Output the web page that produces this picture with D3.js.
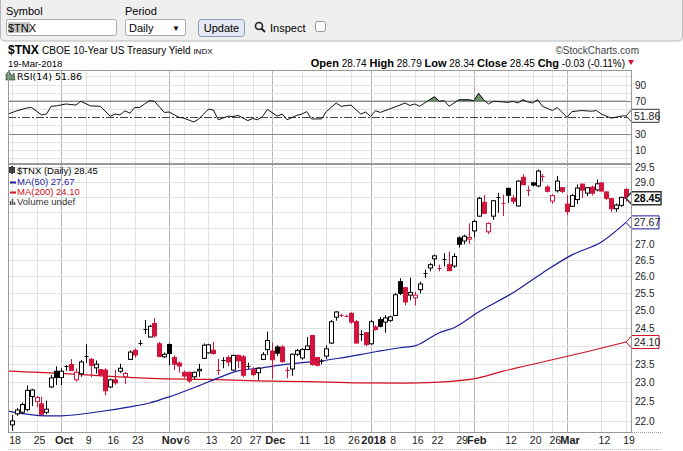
<!DOCTYPE html>
<html>
<head>
<meta charset="utf-8">
<script src="https://cdn.jsdelivr.net/npm/d3@7"></script>
<style>
  body { margin: 0; background: #fff; font-family: "Liberation Sans", Arial, sans-serif; }
  svg text { font-family: "Liberation Sans", Arial, sans-serif; }
</style>
</head>
<body>
<div id="viz"></div>
<script>
// trading days Sep 18 2017 .. Mar 19 2018
const holidays = ["2017-11-23", "2017-12-25", "2018-01-01", "2018-01-15", "2018-02-19"];

const opens = [21.9,22.18,22.22,22.29,22.63,22.5,22.44,22.22,22.88,23.3,
23.13,23.41,23.48,23.07,23.23,23.67,23.62,23.39,23.34,23.33,
22.88,23.07,23.3,23.15,23.62,23.87,24.05,24.45,24.24,24.62,
24.05,23.69,24.03,23.67,23.52,23.27,23.27,23.15,23.31,23.65,
23.8,23.87,23.35,23.58,23.67,23.33,23.73,23.69,23.43,23.34,
23.26,23.62,23.89,23.85,23.96,23.96,23.36,23.36,23.76,23.66,
23.89,24.28,23.67,23.55,23.71,24.07,24.8,24.87,24.85,24.91,
24.67,24.3,24.36,24.05,24.52,24.73,24.66,24.71,24.85,25.84,
25.66,25.44,25.36,25.6,26.08,26.25,26.53,26.27,26.5,26.35,
26.31,27.18,27.08,27.14,27.4,27.87,28.32,27.37,27.87,28.46,
28.32,28.78,28.46,28.2,29.15,28.74,28.96,28.86,29.21,28.82,
28.36,28.7,28.8,28.26,28.19,28.41,28.92,28.62,28.82,28.73,
28.96,28.66,28.44,28.11,28.22,28.74];
const highs = [22.15,22.33,22.47,22.92,22.83,22.65,22.62,22.52,23.2,23.43,
23.38,23.46,23.63,23.37,23.6,24.04,23.66,23.59,23.36,23.38,
23.1,23.34,23.5,23.28,23.87,23.92,24.15,24.72,24.58,24.77,
24.1,23.81,24.06,23.73,23.56,23.32,23.29,23.29,23.5,24.06,
24.05,24.1,23.63,23.68,23.73,23.75,23.75,23.74,23.53,23.41,
23.41,23.82,24.39,24.08,24.01,24.01,23.41,23.78,23.91,23.93,
24.24,24.3,23.68,23.63,24.01,24.72,24.97,24.9,24.87,24.94,
24.72,24.43,24.38,24.72,24.57,24.81,24.86,24.84,25.5,25.94,
25.69,25.96,25.54,25.84,26.2,26.4,26.66,26.35,26.7,26.75,
26.7,27.23,27.28,27.64,27.75,28.5,28.56,27.67,28.4,28.63,
28.57,28.8,28.56,29.05,29.25,28.87,28.99,29.41,29.26,28.89,
28.59,29.19,28.82,28.56,28.59,28.91,28.94,28.82,28.87,29.08,
28.98,28.68,28.46,28.28,28.5,28.79];
const lows = [21.75,22.13,22.17,22.24,22.38,22.35,22.15,22.17,22.85,22.93,
22.93,23.31,23.3,23.02,23.15,23.52,23.14,23.24,23.16,22.66,
22.85,22.94,23.25,22.96,23.6,23.67,24.0,24.32,24.23,24.22,
23.68,23.66,23.46,23.33,23.26,23.12,22.99,23.07,23.15,23.63,
23.78,23.75,23.2,23.38,23.43,23.31,23.38,23.14,23.35,23.16,
23.06,23.6,23.74,23.1,23.71,23.53,23.11,23.18,23.71,23.61,
23.87,23.45,23.43,23.48,23.63,24.05,24.7,24.8,24.8,24.61,
24.05,24.13,23.98,24.02,24.42,24.51,24.36,24.66,24.83,25.44,
25.14,25.29,25.14,25.49,25.95,26.15,26.31,26.15,26.3,26.15,
26.25,26.88,26.98,26.99,27.2,27.85,27.94,27.3,27.75,27.98,
27.87,28.3,28.26,28.18,28.88,28.52,28.84,28.81,29.01,28.64,
28.27,28.64,28.62,27.91,28.17,28.26,28.47,28.52,28.54,28.68,
28.65,28.4,28.01,28.01,28.17,28.34];
const closes = [22.0,22.28,22.42,22.79,22.8,22.6,22.17,22.3,23.12,23.13,
23.3,23.44,23.32,23.27,23.55,23.7,23.46,23.49,23.21,22.78,
23.07,22.99,23.38,23.24,23.82,23.74,24.08,24.47,24.54,24.27,
23.7,23.76,23.78,23.49,23.44,23.17,23.04,23.27,23.35,24.01,
24.02,23.78,23.33,23.61,23.55,23.73,23.58,23.19,23.45,23.21,
23.38,23.75,24.14,23.61,23.79,23.56,23.34,23.76,23.86,23.89,
23.99,23.48,23.46,23.58,23.91,24.67,24.95,24.85,24.83,24.66,
24.07,24.33,24.03,24.67,24.45,24.54,24.78,24.81,25.45,25.49,
25.24,25.52,25.44,25.77,26.1,26.35,26.62,26.25,26.53,26.17,
26.6,26.98,27.23,27.19,27.7,28.45,27.96,27.64,28.37,28.48,
28.3,28.55,28.35,29.02,28.9,28.72,28.89,29.36,29.18,28.68,
28.54,29.02,28.68,28.02,28.54,28.79,28.72,28.8,28.62,28.93,
28.69,28.45,28.11,28.23,28.48,28.45];

// moving averages (day index, value)
const ma50Idx = [0,7,10,18,24,28,32,38,42,46,51,55,59,63,67,74,79,82,87,90,95,102,108,114,120,125];
const ma50Val = [22.25,22.13,22.13,22.24,22.36,22.46,22.62,22.91,23.12,23.31,23.39,23.47,23.53,23.58,23.66,23.83,23.94,23.99,24.36,24.5,24.95,25.51,26.1,26.65,27.05,27.67];
const ma200Idx = [0,10,20,30,40,50,60,70,80,86,95,100,108,117,125];
const ma200Val = [23.3,23.24,23.16,23.1,23.08,23.04,23.02,22.99,22.98,23.0,23.12,23.3,23.55,23.83,24.1];

// RSI(14)
const rsiIdx = [0,1,3,4,6,7,8,9,11,13,14,16,18,20,21,22,23,24,25,26,27,28,29,31,32,34,35,37,38,40,41,42,44,45,46,48,49,50,51,52,54,55,56,58,59,60,61,63,64,66,67,69,71,72,73,74,75,77,79,80,81,82,83,85,86,87,88,89,91,93,94,95,96,97,98,100,101,102,103,104,105,106,107,108,110,111,113,114,116,118,119,120,122,124,125];
const rsiVal = [54,58,61.4,62,53,54,63.5,64,66.3,65,69.6,64,63.5,51.2,54,53,58,55,62,62,66.3,70.3,69.6,56,56.5,50,49,44.3,47.8,60,59,47,51.5,50.8,52.4,46,48.5,47,51,59.7,51.5,54,47,52.5,54,57,48,48,57,67.5,63.5,65,54,56.5,51,58,56,60.5,65,67.5,64.5,66.3,63.5,71.5,75.2,69.6,70.3,63.5,71.5,71.5,70.3,79.4,71.5,66.3,69.6,68.8,68.3,69.6,67.5,71.5,68.8,67.5,71.5,63.5,58.3,62,50,57,58.3,57.5,58.3,54,49,51.5,51.86];

const priceTicks = [22.0,22.5,23.0,23.5,24.0,24.5,25.0,25.5,26.0,26.5,27.0,27.5,28.0,28.5,29.0,29.5];
const rsiTicks = [90,70,30,10];
const lastTags = [28.45, 27.67, 24.10];
// x axis labels: [date, text, isMonth]
const xLabels = [["2017-09-18","18",0],["2017-09-25","25",0],["2017-10-02","Oct",1],["2017-10-09","9",0],
  ["2017-10-16","16",0],["2017-10-23","23",0],["2017-11-01","Nov",1],["2017-11-06","6",0],["2017-11-13","13",0],
  ["2017-11-20","20",0],["2017-11-27","27",0],["2017-12-01","Dec",1],["2017-12-11","11",0],["2017-12-18","18",0],
  ["2017-12-26","26",0],["2018-01-02","2018",1],["2018-01-08","8",0],["2018-01-16","16",0],["2018-01-22","22",0],
  ["2018-01-29","29",0],["2018-02-01","Feb",1],["2018-02-12","12",0],["2018-02-20","20",0],["2018-02-26","26",0],
  ["2018-03-01","Mar",1],["2018-03-12","12",0],["2018-03-19","19",0]];

const fmt = d3.timeFormat("%Y-%m-%d");
const days = d3.timeDay.range(new Date(2017, 8, 18), new Date(2018, 2, 20))
  .filter(d => d.getDay() !== 0 && d.getDay() !== 6 && !holidays.includes(fmt(d)))
  .map(fmt);

const W = 683, H = 451;
const left = 8, right = 631;
const rsiTop = 70, rsiBot = 163, mainTop = 164, mainBot = 432;
const red = "#d2143c", blue = "#1c1c9c", maRed = "#d01020";

const x = d3.scalePoint().domain(days).range([12, 626]);
const xi = i => x(days[i]);
const y = d3.scaleLog().domain([21.72, 29.6]).range([mainBot, mainTop]);
const yr = d3.scaleLinear().domain([-5.9, 107.9]).range([rsiBot, rsiTop]);

const svg = d3.select("#viz").append("svg").attr("width", W).attr("height", H);

// toolbar
svg.append("rect").attr("x", 0.5).attr("y", -4).attr("width", W - 1).attr("height", 45).attr("rx", 4)
  .attr("fill", "#efefef").attr("stroke", "#b8b8b8");
svg.append("text").attr("x", 6).attr("y", 15).attr("font-size", 11).text("Symbol");
svg.append("rect").attr("x", 6.5).attr("y", 19.5).attr("width", 110).attr("height", 16).attr("fill", "#fff").attr("stroke", "#aaa").attr("rx", 2);
svg.append("rect").attr("x", 8).attr("y", 22).attr("width", 22).attr("height", 11).attr("fill", "#c8c8c8");
svg.append("text").attr("x", 8).attr("y", 32).attr("font-size", 11).text("$TNX");
svg.append("text").attr("x", 125).attr("y", 15).attr("font-size", 11).text("Period");
svg.append("rect").attr("x", 125.5).attr("y", 19.5).attr("width", 60).attr("height", 16).attr("fill", "#fff").attr("stroke", "#aaa").attr("rx", 2);
svg.append("text").attr("x", 129).attr("y", 32).attr("font-size", 11).text("Daily");
svg.append("text").attr("x", 172).attr("y", 31).attr("font-size", 8).text("▼");
svg.append("rect").attr("x", 198.5).attr("y", 19.5).attr("width", 46).attr("height", 17).attr("fill", "#e4e8f0").attr("stroke", "#8a9ab0").attr("rx", 3);
svg.append("text").attr("x", 221.5).attr("y", 32).attr("font-size", 11).attr("text-anchor", "middle").text("Update");
svg.append("circle").attr("cx", 259).attr("cy", 26).attr("r", 3.5).attr("fill", "none").attr("stroke", "#222").attr("stroke-width", 1.6);
svg.append("line").attr("x1", 261.5).attr("y1", 28.5).attr("x2", 265).attr("y2", 32).attr("stroke", "#222").attr("stroke-width", 2);
svg.append("text").attr("x", 270).attr("y", 32).attr("font-size", 11).text("Inspect");
svg.append("rect").attr("x", 315.5).attr("y", 21.5).attr("width", 10).attr("height", 10).attr("fill", "#fff").attr("stroke", "#999").attr("rx", 2);

// title lines
const t1 = svg.append("text").attr("x", 8).attr("y", 54);
t1.append("tspan").attr("font-size", 12).attr("font-weight", "bold").text("$TNX ");
t1.append("tspan").attr("font-size", 10).text("CBOE 10-Year US Treasury Yield ");
t1.append("tspan").attr("font-size", 8).text("INDX");
svg.append("text").attr("x", 639).attr("y", 54).attr("font-size", 10).attr("text-anchor", "end").attr("fill", "#444").text("©StockCharts.com");
svg.append("text").attr("x", 8).attr("y", 66.5).attr("font-size", 9.5).text("19-Mar-2018");
const t2 = svg.append("text").attr("x", 625).attr("y", 66.5).attr("font-size", 10).attr("text-anchor", "end");
[["Open", " 28.74  "], ["High", " 28.79  "], ["Low", " 28.34  "], ["Close", " 28.45  "], ["Chg", " -0.03 (-0.11%)"]]
  .forEach(([k, v]) => { t2.append("tspan").attr("font-weight", "bold").attr("font-size", 11).text(k); t2.append("tspan").text(v); });
svg.append("path").attr("d", "M628,60 L634,60 L631,65 Z").attr("fill", red);

// panel grids
function grid(top, bot) {
  const g = svg.append("g");
  xLabels.forEach(([d, , m]) => {
    const xx = Math.round(x(d)) + 0.5;
    g.append("line").attr("x1", xx).attr("x2", xx).attr("y1", top).attr("y2", bot)
      .attr("stroke", m ? "#b4b4b4" : "#e2e2e2");
  });
  return g;
}
// RSI panel
const gr = grid(rsiTop, rsiBot);
d3.range(0, 101, 10).forEach(v => {
  const yy = Math.round(yr(v)) + 0.5;
  gr.append("line").attr("x1", left).attr("x2", right).attr("y1", yy).attr("y2", yy)
    .attr("stroke-dasharray", v === 50 ? "8,2,2,2" : null)
    .attr("stroke", v === 50 ? "#444" : (v === 70 || v === 30 ? "#888" : "#e2e2e2"));
});
svg.append("clipPath").attr("id", "above70").append("rect")
  .attr("x", left).attr("y", rsiTop).attr("width", right - left).attr("height", yr(70) - rsiTop);
const rsiPts = rsiIdx.map((d, k) => [xi(d), yr(rsiVal[k])]);
rsiPts[0][0] = left;
svg.append("path").attr("clip-path", "url(#above70)")
  .attr("d", d3.area().x(d => d[0]).y0(yr(70)).y1(d => d[1])(rsiPts))
  .attr("fill", "#6e936e").attr("stroke", "#3a5a3a").attr("stroke-width", 0.5);
svg.append("path").attr("d", d3.line()(rsiPts)).attr("fill", "none").attr("stroke", "#111").attr("stroke-width", 1);
rsiTicks.forEach(v => svg.append("text").attr("x", 635).attr("y", yr(v) + 4).attr("font-size", 10).attr("fill", "#222").text(v));
svg.append("path").attr("d", "M6,74 L9,71 L12,76 L14,73 L15,80 L6,80 Z").attr("fill", "#6e936e").attr("stroke", "#333").attr("stroke-width", 0.6);
svg.append("text").attr("x", 17).attr("y", 80).attr("font-size", 9.5)
  .style("font-family", "DejaVu Sans").text("RSI(14) 51.86");

// main panel
const gm = grid(mainTop, mainBot);
priceTicks.forEach(v => {
  const yy = Math.round(y(v)) + 0.5;
  gm.append("line").attr("x1", left).attr("x2", right).attr("y1", yy).attr("y2", yy).attr("stroke", "#e2e2e2");
  // tag boxes cover nearby tick labels, as in the original
  if (lastTags.some(t => Math.abs(y(t) - y(v)) < 11)) return;
  svg.append("text").attr("x", 635).attr("y", y(v) + 4).attr("font-size", 10).attr("fill", "#222").text(v.toFixed(1));
});

// moving averages
const maLine = d3.line().curve(d3.curveMonotoneX);
const ma200Pts = ma200Idx.map((d, k) => [xi(d), y(ma200Val[k])]);
ma200Pts[0][0] = left;
svg.append("path").attr("d", maLine(ma200Pts)).attr("fill", "none").attr("stroke", maRed).attr("stroke-width", 1.2);
const ma50Pts = ma50Idx.map((d, k) => [xi(d), y(ma50Val[k])]);
ma50Pts[0][0] = left;
svg.append("path").attr("d", maLine(ma50Pts)).attr("fill", "none").attr("stroke", blue).attr("stroke-width", 1.2);

// candles
const gc = svg.append("g");
closes.forEach((c, i) => {
  const o = opens[i], cx = Math.round(xi(i)) + 0.5;
  const col = i === 0 || c >= closes[i - 1] ? "#000" : red;
  gc.append("line").attr("x1", cx).attr("x2", cx).attr("y1", y(highs[i])).attr("y2", y(lows[i])).attr("stroke", col);
  const top = y(Math.max(o, c)), bot = y(Math.min(o, c));
  if (bot - top < 1.2) {
    gc.append("line").attr("x1", cx - 2).attr("x2", cx + 2).attr("y1", Math.round(y(c)) + 0.5).attr("y2", Math.round(y(c)) + 0.5).attr("stroke", col);
  } else {
    gc.append("rect").attr("x", cx - 2).attr("width", 4).attr("y", top).attr("height", bot - top)
      .attr("fill", c < o ? col : "#fff").attr("stroke", col);
  }
});

// legend main
const lg = svg.append("g").style("font-family", "DejaVu Sans").attr("font-size", 9.5);
svg.append("path").attr("d", "M10,167 v6 M12,166 v8 M14,167 v6").attr("stroke", "#000").attr("stroke-width", 1.5);
lg.append("text").attr("x", 17).attr("y", 174).text("$TNX (Daily) 28.45");
lg.append("line").attr("x1", 10).attr("x2", 16).attr("y1", 182.5).attr("y2", 182.5).attr("stroke", blue).attr("stroke-width", 2);
lg.append("text").attr("x", 17).attr("y", 185).attr("fill", blue).text("MA(50) 27.67");
lg.append("line").attr("x1", 10).attr("x2", 16).attr("y1", 192.5).attr("y2", 192.5).attr("stroke", maRed).attr("stroke-width", 2);
lg.append("text").attr("x", 17).attr("y", 195).attr("fill", maRed).text("MA(200) 24.10");
svg.append("path").attr("d", "M10.5,205 v-4 M12.5,205 v-6 M14.5,205 v-3").attr("stroke", "#555").attr("stroke-width", 1.5);
lg.append("text").attr("x", 17).attr("y", 205).attr("fill", "#333").text("Volume undef");

// value tags
function tag(yy, txt, col, bold, w) {
  const g = svg.append("g");
  g.append("path").attr("d", `M626,${yy} L632,${yy - 6.5} L${632 + w},${yy - 6.5} L${632 + w},${yy + 6.5} L632,${yy + 6.5} Z`)
    .attr("fill", "#fff").attr("stroke", col).attr("stroke-width", bold ? 1.5 : 1);
  g.append("text").attr("x", 634).attr("y", yy + 4).attr("font-size", 10.5).attr("font-weight", bold ? "bold" : null)
    .attr("fill", bold ? "#000" : "#222").text(txt);
}
tag(y(lastTags[0]), "28.45", "#333", true, 29);
tag(y(lastTags[1]), "27.67", blue, false, 27);
tag(y(lastTags[2]), "24.10", maRed, false, 27);
tag(yr(51.86), "51.86", "#333", false, 27);

// frames
[[rsiTop, rsiBot], [mainTop, mainBot]].forEach(([a, b]) => {
  svg.append("rect").attr("x", left + 0.5).attr("y", a + 0.5).attr("width", right - left).attr("height", b - a)
    .attr("fill", "none").attr("stroke", "#999");
});
svg.append("line").attr("x1", left).attr("x2", 662).attr("y1", mainBot + 0.5).attr("y2", mainBot + 0.5).attr("stroke", "#999").attr("stroke-dasharray", "1,1");
svg.append("line").attr("x1", left).attr("x2", 662).attr("y1", 449.5).attr("y2", 449.5).attr("stroke", "#bbb").attr("stroke-dasharray", "1,1");

// x labels
xLabels.forEach(([d, t, m]) => {
  svg.append("text").attr("x", x(d) + 3).attr("y", 444).attr("font-size", m ? 11 : 10.5)
    .attr("font-weight", m ? "bold" : null).attr("text-anchor", "middle").attr("fill", "#222").text(t);
});
</script>
</body>
</html>
